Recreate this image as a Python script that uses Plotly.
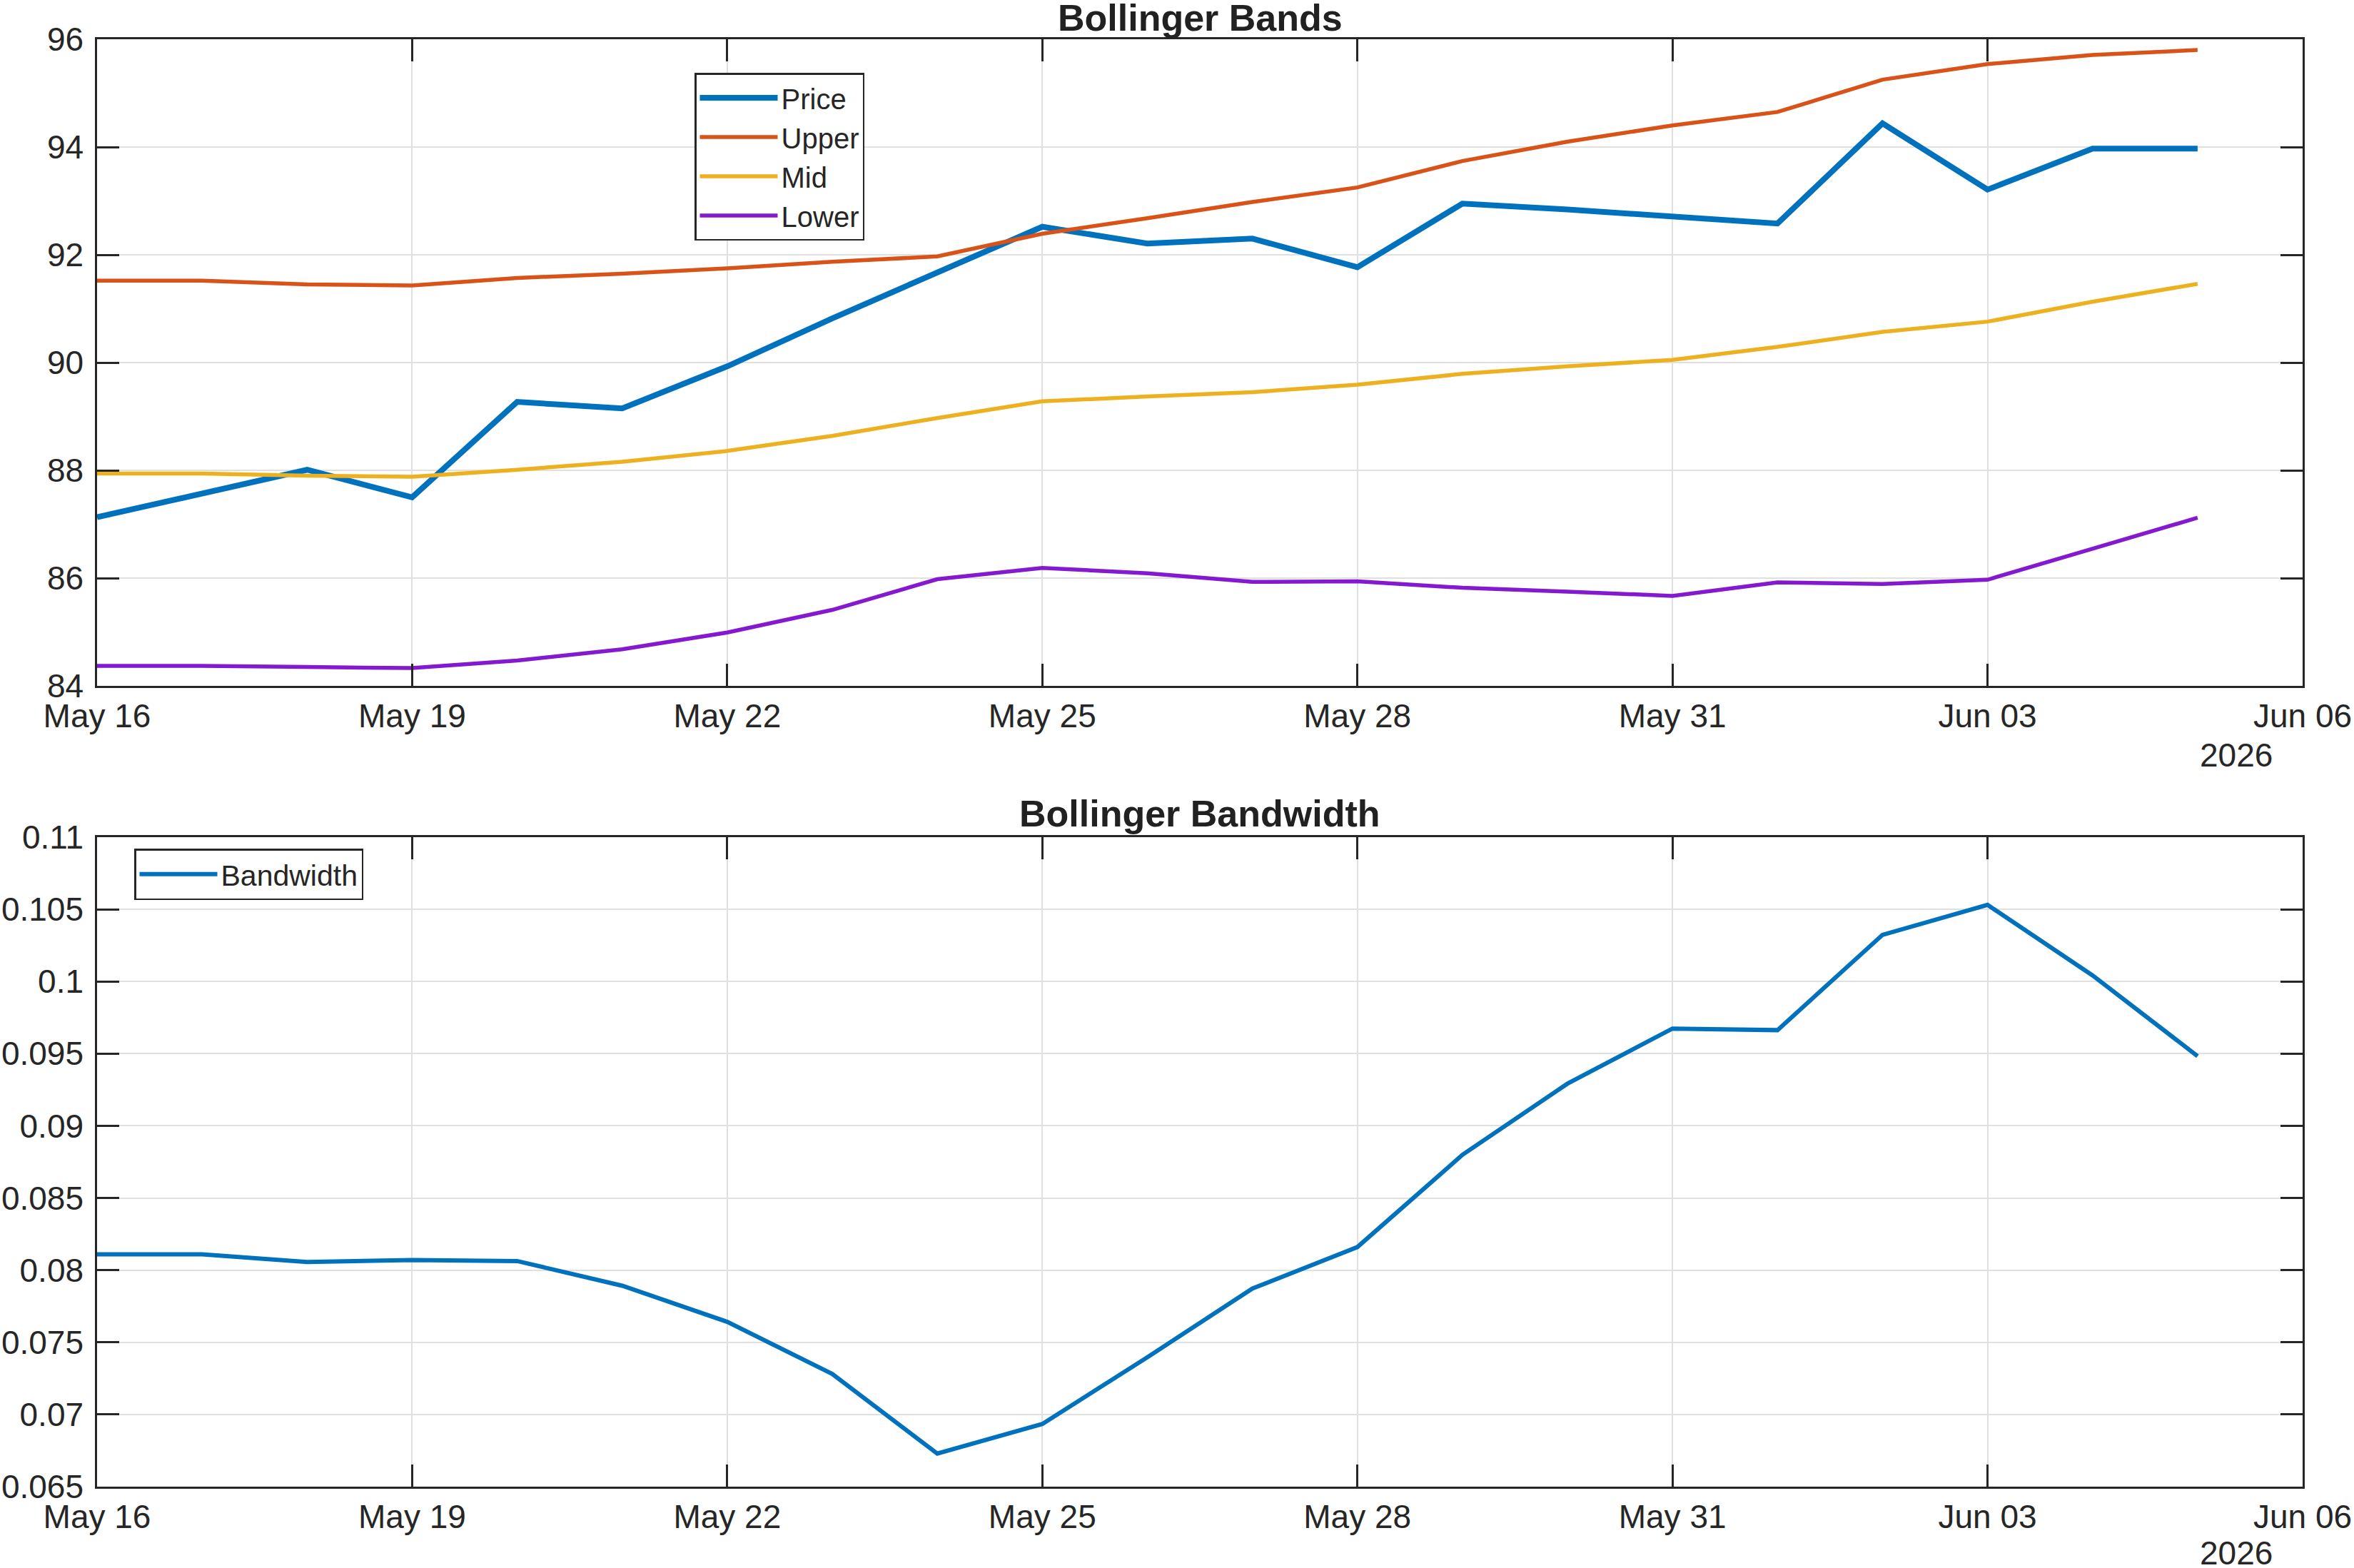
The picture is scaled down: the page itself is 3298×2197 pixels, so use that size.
import plotly.graph_objects as go
import pandas as pd

# ---- data ----
dates = pd.date_range("2026-05-16", "2026-06-05", freq="D")
price = [87.13, 87.58, 88.01, 87.50, 89.27, 89.15, 89.93, 90.82, 91.68, 92.52, 92.21,
         92.30, 91.77, 92.95, 92.84, 92.71, 92.58, 94.44, 93.21, 93.97, 93.97]
upper = [91.52, 91.52, 91.45, 91.43, 91.57, 91.65, 91.75, 91.87, 91.97, 92.39, 92.68,
         92.98, 93.25, 93.74, 94.10, 94.40, 94.65, 95.25, 95.54, 95.71, 95.80]
mid = [87.94, 87.94, 87.90, 87.88, 88.01, 88.16, 88.36, 88.64, 88.97, 89.28, 89.37,
       89.45, 89.59, 89.79, 89.93, 90.05, 90.29, 90.57, 90.76, 91.13, 91.46]
lower = [84.37, 84.37, 84.35, 84.33, 84.47, 84.68, 84.99, 85.41, 85.98, 86.19, 86.09,
         85.93, 85.94, 85.82, 85.75, 85.67, 85.92, 85.89, 85.97, 86.54, 87.12]
bandwidth = [0.0811, 0.0811, 0.08056, 0.0807, 0.08063, 0.07892, 0.07642, 0.07281, 0.06729,
             0.06934, 0.07396, 0.07872, 0.0816, 0.08799, 0.09292, 0.09674, 0.09663,
             0.10323, 0.10531, 0.10042, 0.09483]

x_tickvals = ["2026-05-16", "2026-05-19", "2026-05-22", "2026-05-25", "2026-05-28",
              "2026-05-31", "2026-06-03", "2026-06-06"]
x_ticktext = ["May 16", "May 19", "May 22", "May 25", "May 28", "May 31", "Jun 03", "Jun 06"]
y1_tickvals = [84, 86, 88, 90, 92, 94, 96]
y2_tickvals = [0.065, 0.07, 0.075, 0.08, 0.085, 0.09, 0.095, 0.1, 0.105, 0.11]
y2_ticktext = ["0.065", "0.07", "0.075", "0.08", "0.085", "0.09", "0.095", "0.1", "0.105", "0.11"]

# ---- layout geometry (pixels) ----
W, H = 3298, 2197
FONT = "Arial, Liberation Sans, Helvetica, sans-serif"
INK = "#262626"
GRID = "#E0E0E0"

def px_x(p):
    return p / W

def px_y(p):
    return 1 - p / H

fig = go.Figure()
fig.add_trace(go.Scatter(x=dates, y=price, mode="lines", name="Price",
                         line=dict(color="#0072BD", width=8), xaxis="x", yaxis="y", legend="legend"))
fig.add_trace(go.Scatter(x=dates, y=upper, mode="lines", name="Upper",
                         line=dict(color="#D95319", width=5.5), xaxis="x", yaxis="y", legend="legend"))
fig.add_trace(go.Scatter(x=dates, y=mid, mode="lines", name="Mid",
                         line=dict(color="#EDB120", width=5.5), xaxis="x", yaxis="y", legend="legend"))
fig.add_trace(go.Scatter(x=dates, y=lower, mode="lines", name="Lower",
                         line=dict(color="#8519D0", width=5.5), xaxis="x", yaxis="y", legend="legend"))
fig.add_trace(go.Scatter(x=dates, y=bandwidth, mode="lines", name="Bandwidth",
                         line=dict(color="#0072BD", width=6), xaxis="x2", yaxis="y2", legend="legend2"))

axis_common = dict(
    showline=True, linecolor=INK, linewidth=2.5, mirror="allticks",
    ticks="inside", ticklen=31, tickwidth=2.5, tickcolor=INK,
    showgrid=True, gridcolor=GRID, gridwidth=2, zeroline=False,
    tickfont=dict(family=FONT, size=46, color=INK), automargin=False,
)

xdom = [px_x(136), px_x(3226)]
xr = ["2026-05-16", "2026-06-06"]

fig.update_layout(
    width=W, height=H,
    margin=dict(l=0, r=0, t=0, b=0, autoexpand=False),
    paper_bgcolor="white", plot_bgcolor="white",
    font=dict(family=FONT, color=INK),
    xaxis=dict(domain=xdom, anchor="y", type="date", range=xr,
               tickmode="array", tickvals=x_tickvals, ticktext=x_ticktext, **axis_common),
    yaxis=dict(domain=[px_y(961), px_y(55)], anchor="x", range=[84, 96],
               tickmode="array", tickvals=y1_tickvals, ticklabelstandoff=7, **axis_common),
    xaxis2=dict(domain=xdom, anchor="y2", type="date", range=xr,
                tickmode="array", tickvals=x_tickvals, ticktext=x_ticktext, **axis_common),
    yaxis2=dict(domain=[px_y(2083), px_y(1173)], anchor="x2", range=[0.065, 0.11],
                tickmode="array", tickvals=y2_tickvals, ticktext=y2_ticktext,
                ticklabelstandoff=7, **axis_common),
    legend=dict(x=px_x(973), y=px_y(102), xanchor="left", yanchor="top",
                bgcolor="white", bordercolor=INK, borderwidth=2.5,
                font=dict(family=FONT, size=40, color=INK), itemwidth=109,
                tracegroupgap=0),
    legend2=dict(x=px_x(188), y=px_y(1189), xanchor="left", yanchor="top",
                 bgcolor="white", bordercolor=INK, borderwidth=2.5,
                 font=dict(family=FONT, size=41, color=INK), itemwidth=109),
    showlegend=True,
)

title_font = dict(family=FONT, size=52, color="#212121")
fig.add_annotation(text="<b>Bollinger Bands</b>", xref="paper", yref="paper",
                   x=(xdom[0] + xdom[1]) / 2, y=px_y(25), xanchor="center", yanchor="middle",
                   showarrow=False, font=title_font)
fig.add_annotation(text="<b>Bollinger Bandwidth</b>", xref="paper", yref="paper",
                   x=(xdom[0] + xdom[1]) / 2, y=px_y(1140), xanchor="center", yanchor="middle",
                   showarrow=False, font=title_font)
for ypix in (1058, 2176):
    fig.add_annotation(text="2026", xref="paper", yref="paper",
                       x=px_x(3133), y=px_y(ypix), xanchor="center", yanchor="middle",
                       showarrow=False, font=dict(family=FONT, size=46, color=INK))

fig.write_html("out.html")
